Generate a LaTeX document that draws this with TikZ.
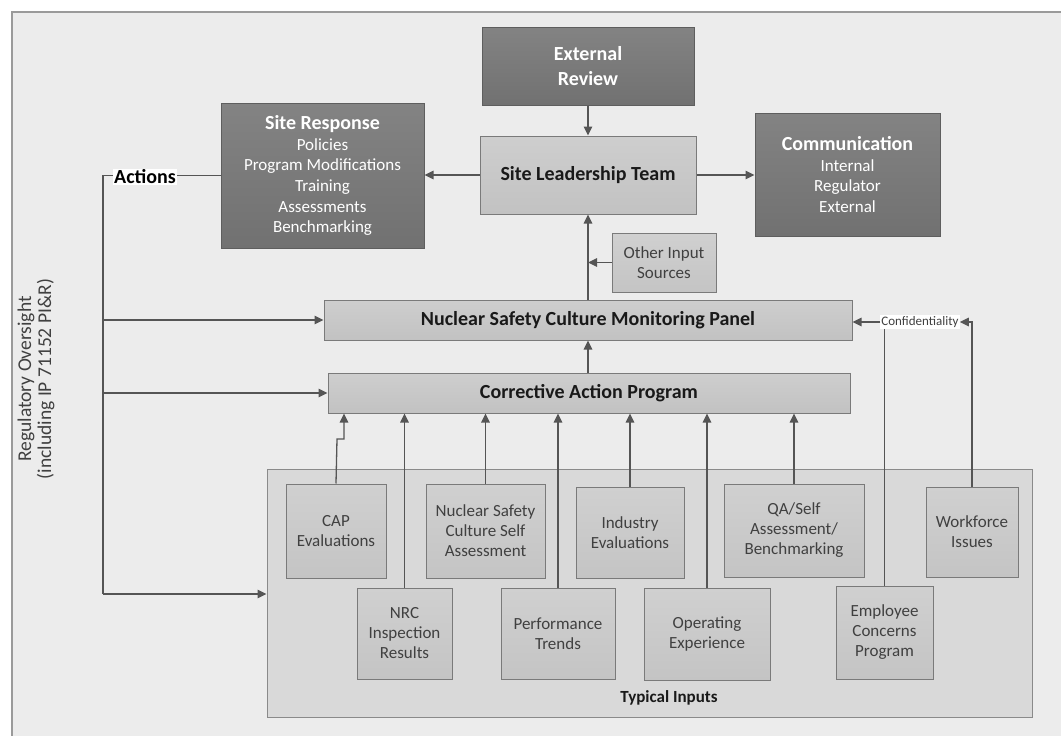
\documentclass[tikz,border=0pt]{standalone}
\usepackage{fontspec}
\setmainfont{Carlito}
\usetikzlibrary{arrows.meta}
\definecolor{cbg}{HTML}{ECECEC}
\definecolor{cframe}{HTML}{9A9A9A}
\definecolor{cdarkt}{HTML}{838383}
\definecolor{cdarkb}{HTML}{717171}
\definecolor{cdarkd}{HTML}{5E5E5E}
\definecolor{clightt}{HTML}{CECECE}
\definecolor{clightb}{HTML}{C2C2C2}
\definecolor{clightd}{HTML}{7A7A7A}
\definecolor{ctypf}{HTML}{D9D9D9}
\definecolor{ctypd}{HTML}{8A8A8A}
\definecolor{cint}{HTML}{D0D0D0}
\definecolor{cinb}{HTML}{C4C4C4}
\definecolor{cline}{HTML}{555555}
\definecolor{ctxt}{HTML}{404040}
\begin{document}
\begin{tikzpicture}[x=1pt,y=-1pt,
  every node/.style={inner sep=0pt},
  ln/.style={draw=cline, line width=1.3pt},
  arr/.style={ln, -{Triangle[length=9pt,width=8.5pt]}},
  darkbox/.style={draw=cdarkd, line width=1pt, top color=cdarkt, bottom color=cdarkb, text=white, align=center, font=\fontsize{17}{20.7}\selectfont},
  lightbox/.style={draw=clightd, line width=1pt, top color=clightt, bottom color=clightb, text=black!90, align=center, font=\fontsize{20}{24}\selectfont\bfseries},
  inbox/.style={draw=clightd, line width=1pt, top color=cint, bottom color=cinb, text=ctxt, align=center, font=\fontsize{17}{20}\selectfont},
  typbox/.style={draw=ctypd, line width=1pt, fill=ctypf},
  tb/.style={font=\fontsize{20}{24}\selectfont\bfseries}
]
\useasboundingbox (0,0) rectangle (1061,736);
\fill[white] (0,0) rectangle (1061,736);
\fill[cbg] (12,12) rectangle (1061,736);
\draw[cframe, line width=1.2pt] (12,736) -- (12,12) -- (1061,12);

% rotated label
\node[rotate=90, align=center, font=\fontsize{19.5}{20}\selectfont, text=ctxt] (reg) at (36,379) {Regulatory Oversight\\(including IP 71152 PI\&R)};

% top boxes
\node[darkbox, minimum width=212, minimum height=78, font=\fontsize{20}{25}\selectfont\bfseries] (ext) at (588,66) {External\\Review};
\node[lightbox, minimum width=216, minimum height=78] (slt) at (588,175) {Site Leadership Team};
\node[darkbox, minimum width=203, minimum height=145] (sr) at (322.5,175.5) {{\fontsize{20}{24}\selectfont\bfseries Site Response}\\Policies\\Program Modifications\\Training\\Assessments\\Benchmarking};
\node[darkbox, minimum width=185, minimum height=123] (comm) at (847.5,174.5) {{\fontsize{20}{24}\selectfont\bfseries Communication}\\Internal\\Regulator\\External};
\node[inbox, minimum width=104, minimum height=59] (ois) at (664,262.5) {Other Input\\Sources};
\node[lightbox, minimum width=528, minimum height=40] (nscmp) at (588,320) {Nuclear Safety Culture Monitoring Panel};
\node[lightbox, minimum width=522, minimum height=40] (cap) at (589,393) {Corrective Action Program};

% typical inputs
\node[typbox, minimum width=765, minimum height=248] (typ) at (649.5,593) {};
\node[font=\fontsize{17}{20}\selectfont\bfseries, text=black!90] (typlbl) at (669,698) {Typical Inputs};
\node[inbox, minimum width=100, minimum height=94] (cape) at (336,531) {CAP\\Evaluations};
\node[inbox, minimum width=95, minimum height=91] (nrc) at (404.5,633.5) {NRC\\Inspection\\Results};
\node[inbox, minimum width=119, minimum height=94] (nscsa) at (485.5,531) {Nuclear Safety\\Culture Self\\Assessment};
\node[inbox, minimum width=108, minimum height=91] (ind) at (630,532.5) {Industry\\Evaluations};
\node[inbox, minimum width=114, minimum height=91] (perf) at (558,633.5) {Performance\\Trends};
\node[inbox, minimum width=126, minimum height=92] (oe) at (707,634) {Operating\\Experience};
\node[inbox, minimum width=140, minimum height=93] (qa) at (794,530.5) {QA/Self\\Assessment/\\Benchmarking};
\node[inbox, minimum width=92, minimum height=90] (wf) at (972,532) {Workforce\\Issues};
\node[inbox, minimum width=97, minimum height=93] (ecp) at (884.5,632.5) {Employee\\Concerns\\Program};

\node[font=\fontsize{13}{15}\selectfont, fill=white, text=ctxt, inner sep=1pt] (conf) at (920,322) {Confidentiality};

% connectors top
\draw[arr] (ext.south) -- (slt.north);
\draw[arr] (slt.west) -- (sr.east |- slt.west);
\draw[arr] (slt.east) -- (comm.west |- slt.east);
\draw[arr] (nscmp.north) -- (slt.south);
\draw[arr] (ois.west) -- (ois.west -| nscmp.north);
\draw[arr] (nscmp.south |- cap.north) -- (nscmp.south);

% inputs to CAP
\coordinate (j1) at (337,439);
\coordinate (j2) at (344,439);
\draw[arr] (cape.north) -- (j1) -- (j2) -- (j2 |- cap.south);
\draw[arr] (nrc.north) -- (nrc.north |- cap.south);
\draw[arr] (nscsa.north) -- (nscsa.north |- cap.south);
\draw[arr] (perf.north) -- (perf.north |- cap.south);
\draw[arr] (ind.north) -- (ind.north |- cap.south);
\draw[arr] (oe.north) -- (oe.north |- cap.south);
\draw[arr] (qa.north) -- (qa.north |- cap.south);

% confidentiality
\draw[arr] (conf.west) -- (nscmp.east |- conf.west);
\draw[ln] (ecp.north) -- (ecp.north |- conf.south);
\draw[arr] (wf.north) |- (conf.east);

% actions / regulatory oversight
\coordinate (ra) at (103,175.5);
\coordinate (rb) at (103,594);
\draw[ln] (sr.west) -- (ra) -- (rb);
\draw[arr] (rb) -- (typ.west |- rb);
\draw[arr] (ra |- nscmp.west) -- (nscmp.west);
\draw[arr] (ra |- cap.west) -- (cap.west);
\node[font=\fontsize{20}{22}\selectfont\bfseries, fill=white, inner sep=1pt, text=black] (act) at (145,177) {Actions};
\end{tikzpicture}
\end{document}
